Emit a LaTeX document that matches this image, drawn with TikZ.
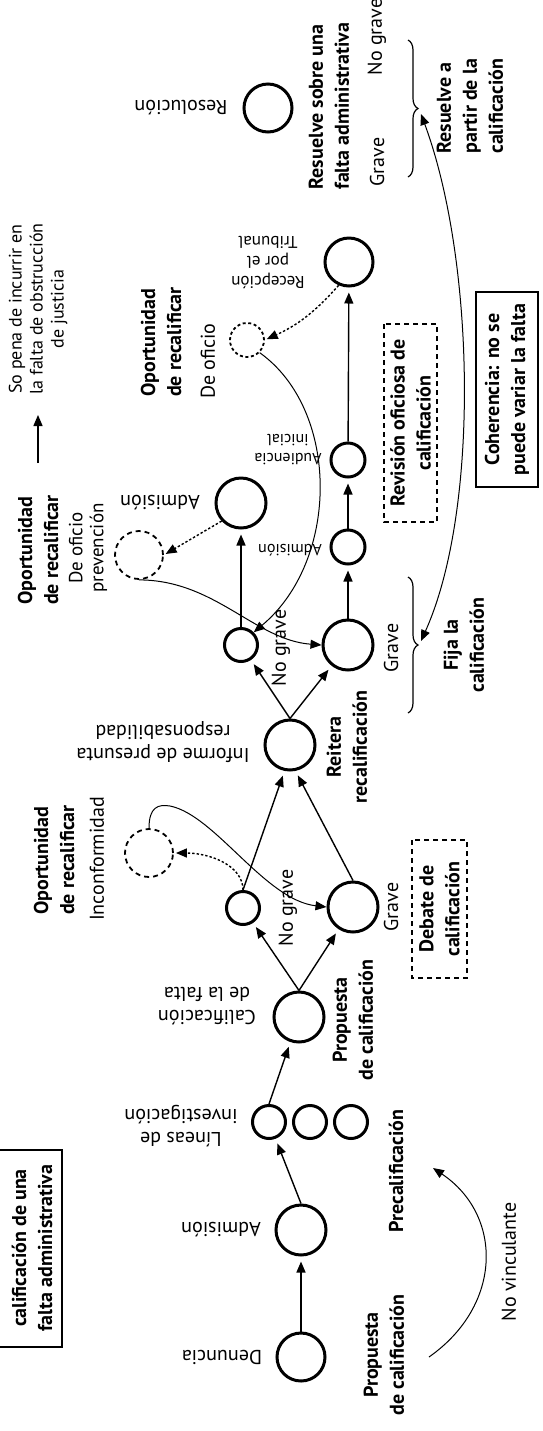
\documentclass[tikz,border=0pt]{standalone}
\usepackage{fontspec}
\setmainfont{PT Sans}
\usetikzlibrary{arrows.meta,decorations.pathreplacing}
\begin{document}
\begin{tikzpicture}[x=0.5pt,y=0.5pt,
  big/.style={circle,draw,line width=1.5pt,minimum size=25pt,inner sep=0pt},
  mid/.style={circle,draw,line width=1.5pt,minimum size=24pt,inner sep=0pt},
  sml/.style={circle,draw,line width=1.5pt,minimum size=16.5pt,inner sep=0pt},
  dcirc/.style={circle,draw,line width=0.9pt,dash pattern=on 2.5pt off 2pt,minimum size=24pt,inner sep=0pt},
  tip/.style={Triangle[length=5.5pt,width=4.5pt]},
  arr/.style={line width=0.7pt,-{Triangle[length=5.5pt,width=4.5pt]},shorten >=2.5pt},
  dotarr/.style={line width=0.7pt,dash pattern=on 1.2pt off 1pt,-{Triangle[length=5.5pt,width=4.5pt]},shorten >=1pt},
  thinarr/.style={line width=0.5pt,-{Triangle[length=5.5pt,width=4.5pt]}},
  brc/.style={decorate,decoration={brace,amplitude=5pt},line width=0.6pt},
  bl/.style={font=\fontsize{10}{13}\selectfont\bfseries,rotate=90,align=center,inner sep=0pt},
  reg/.style={font=\fontsize{10}{12}\selectfont,rotate=90,align=center,inner sep=0pt},
  lbl/.style={font=\fontsize{10}{11.5}\selectfont,rotate=180,align=center,inner sep=0pt},
  lbls/.style={font=\fontsize{8}{9.5}\selectfont,rotate=180,align=center,inner sep=0pt},
  dbox/.style={draw,line width=0.7pt,dash pattern=on 2.5pt off 2pt}
]
\useasboundingbox (0,0) rectangle (542,-1431);

% circles
\node[mid] (den) at (301,-1357) {};
\node[big] (adm1) at (301,-1230) {};
\node[sml] (lin1) at (269,-1122) {};
\node[sml] (lin2) at (310,-1122) {};
\node[sml] (lin3) at (351,-1122) {};
\node[big] (cal) at (299,-1017) {};
\node[sml] (ng1) at (243,-908) {};
\node[big] (gr1) at (353,-907) {};
\node[dcirc] (inc) at (149,-853) {};
\node[big] (inf) at (290,-745) {};
\node[sml] (ng2) at (241,-645) {};
\node[big] (gr2) at (348,-645) {};
\node[dcirc] (pre) at (139,-555) {};
\node[big] (adm2) at (241,-503) {};
\node[sml,minimum size=17pt] (adm3) at (348,-547) {};
\node[sml,minimum size=17pt] (aud) at (348,-460) {};
\node[dcirc,minimum size=17pt,dash pattern=on 1.5pt off 1.3pt] (ofi) at (247,-340) {};
\node[mid] (rec) at (349,-262) {};
\node[mid] (res) at (268,-108) {};

% circle labels (upside down)
\node[lbl] (tden) at (222,-1357) {Denuncia};
\node[lbl] (tadm1) at (221,-1230) {Admisión};
\node[lbl] (tlin) at (181,-1126) {Líneas de\\investigación};
\node[lbl] (tcal) at (207,-1006) {Calificación\\de la falta};
\node[lbl] (tinf) at (163,-742) {Informe de presunta\\responsabilidad};
\node[lbl] (tadm2) at (160,-503) {Admisión};
\node[lbls] (tadm3) at (290,-550) {Admisión};
\node[lbls] (taud) at (288,-450) {Audiencia\\inicial};
\node[lbl,font=\fontsize{8.5}{10}\selectfont] (trec) at (268,-263) {Recepción\\por el\\Tribunal};
\node[lbl] (tres) at (181,-108) {Resolución};

% bold and regular rotated labels
\node[bl] (b1) at (384,-1355) {Propuesta\\de calificación};
\node[bl] (b2) at (396,-1171) {Precalificación};
\node[bl] (b3) at (353,-1020) {Propuesta\\de calificación};
\node[bl,align=left] (b4) at (54,-860) {Oportunidad\\de recalificar};
\node[reg] (t4) at (97,-859) {Inconformidad};
\node[bl] (b5) at (347,-747) {Reitera\\recalificación};
\node[bl,align=left] (b6) at (38,-550) {Oportunidad\\de recalificar};
\node[reg,font=\fontsize{9.5}{10.5}\selectfont] (t6) at (88,-548) {De oficio\\prevención};
\node[bl] (b7) at (464,-645) {Fija la\\calificación};
\node[bl,align=left] (b8) at (161,-342) {Oportunidad\\de recalificar};
\node[reg] (t8) at (208,-361) {De oficio};
\node[bl,align=left] (b9) at (329,-106) {Resuelve sobre una\\falta administrativa};
\node[reg] (g9) at (377,-162) {Grave};
\node[reg] (ng9) at (377,-37) {No grave};
\node[bl,align=left] (b10) at (470,-106) {Resuelve a\\partir de la\\calificación};
\node[reg] (lng1) at (288,-908) {No grave};
\node[reg] (lg1) at (391,-907) {Grave};
\node[reg] (lng2) at (281,-648) {No grave};
\node[reg] (lg2) at (391,-648) {Grave};
\node[reg] (nv) at (509,-1262) {No vinculante};
\node[reg,font=\fontsize{9}{10.5}\selectfont] (leg) at (38,-309) {So pena de incurrir en\\la falta de obstrucción\\de justicia};

% boxes
\draw[line width=1pt] (-10,-1150) rectangle (62,-1347);
\node[bl] (title) at (32,-1248) {calificación de una\\falta administrativa};
\node[bl,draw,line width=1pt,minimum width=97.5pt,minimum height=31pt] (coh) at (507,-389.5) {Coherencia: no se\\puede variar la falta};
\node[bl,dbox,minimum width=99pt,minimum height=26.5pt] (rev) at (410.5,-423) {Revisión oficiosa de\\calificación};
\node[bl,dbox,minimum width=69pt,minimum height=27.5pt] (deb) at (439.5,-909) {Debate de\\calificación};

% braces
\draw[brc] (408,-40) -- (408,-177);
\draw[brc] (408,-577) -- (408,-713);

% main arrows
\draw[arr] (den) -- (adm1);
\draw[arr] (adm1.north) -- (lin1);
\draw[arr] (lin1.north) -- (cal);
\draw[arr] (cal.north) -- (ng1);
\draw[arr] (cal.north) -- (gr1);
\draw[arr] (ng1.north) -- (inf.258);
\draw[arr] (gr1.north) -- (inf.282);
\draw[arr] (inf.north) -- (ng2);
\draw[arr] (inf.north) -- (gr2);
\draw[arr] (ng2) -- (adm2);
\draw[arr] (gr2) -- (adm3);
\draw[arr] (adm3) -- (aud);
\draw[arr] (aud) -- (rec);

% dotted arrows
\draw[dotarr] (adm2.223) -- (pre.east);
\draw[dotarr] (rec.246) to[bend left=12] (ofi.east);
\draw[dotarr] (ng1.north) .. controls +(0,25) and +(35,0) .. (inc.east);

% thin curves
\draw[thinarr] (inc.north) .. controls +(0,21) and (158,-804) .. (170,-806) .. controls (215,-815) and (265,-900) .. (gr1.west);
\draw[thinarr] (pre.south) .. controls (215,-580) and (255,-640) .. (gr2.west);
\draw[thinarr] (ofi.-45) .. controls (340,-410) and (340,-560) .. (ng2.45);

% coherence double arrow
\coordinate (fijatip) at (421,-641);
\coordinate (restip) at (421,-114);
\draw[line width=0.5pt,{Triangle[length=5.5pt,width=4.5pt]}-{Triangle[length=5.5pt,width=4.5pt]}] (fijatip) .. controls (480,-510) and (475,-260) .. (restip);

% no vinculante
\coordinate (nv1) at (429,-1357);
\coordinate (nv2) at (433,-1168);
\draw[thinarr] (nv1) .. controls (503,-1305) and (503,-1215) .. (nv2);

% legend
\coordinate (la1) at (38,-463);
\coordinate (la2) at (38,-415);
\draw[line width=0.7pt,-{Triangle[length=5.5pt,width=4.5pt]}] (la1) -- (la2);
\end{tikzpicture}
\end{document}
